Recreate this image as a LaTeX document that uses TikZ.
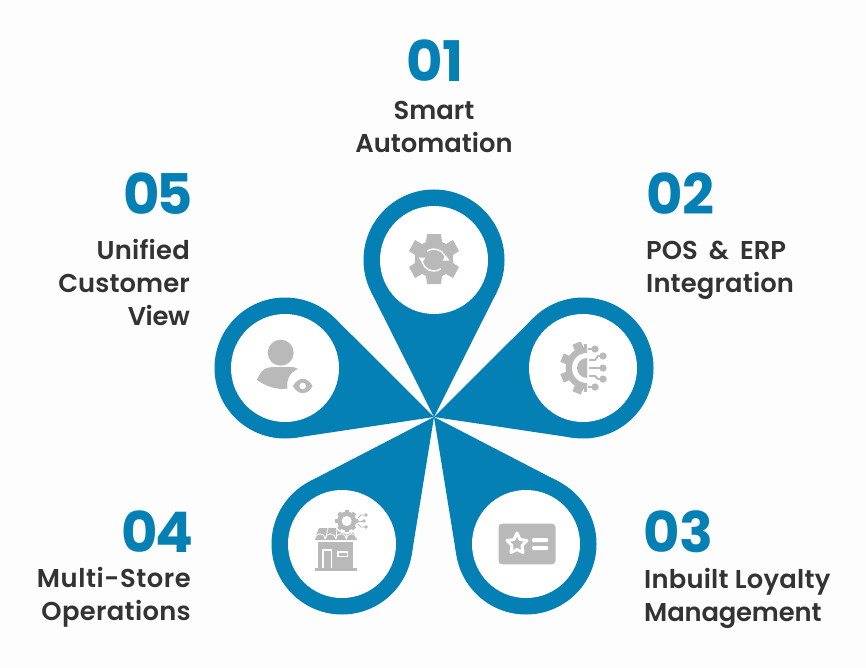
\documentclass[tikz,border=0pt]{standalone}
\usepackage{fontspec}
\setmainfont{Poppins}[BoldFont={Poppins SemiBold}]
\newfontfamily\numfont{Poppins}[UprightFont={* Bold}]
\usetikzlibrary{calc}
\definecolor{pinblue}{HTML}{0580B5}
\definecolor{icongray}{HTML}{B9B9B9}
\definecolor{bgpage}{HTML}{FDFDFD}
\definecolor{txtdark}{HTML}{333333}
\tikzset{
  outerdisc/.style={circle,fill=pinblue,minimum size=141pt,inner sep=0pt,outer sep=0pt},
  innerdisc/.style={circle,fill=white,minimum size=108pt,inner sep=0pt,outer sep=0pt},
  numtext/.style={text=pinblue,font=\numfont\fontsize{56}{56}\selectfont,inner sep=0pt},
  labtext/.style={text=txtdark,font=\bfseries\fontsize{25.8}{33}\selectfont,inner sep=0pt},
  icon/.style={fill=icongray,draw=none}
}
\newcommand{\pinat}[2]{%
  \node[outerdisc] (o#1) at (#2) {};
  \fill[pinblue] (apex) -- (tangent cs:node=o#1,point={(apex)},solution=1)
     -- (o#1.center) -- (tangent cs:node=o#1,point={(apex)},solution=2) -- cycle;
}
\newcommand{\sprd}[1]{\addfontfeature{LetterSpace=#1}}
\begin{document}
\begin{tikzpicture}[x=1pt,y=-1pt]
\path[fill=bgpage] (0,0) rectangle (866,668);
\useasboundingbox (0,0) rectangle (866,668);
\coordinate (apex) at (434,417);
\pinat{a}{434,260}
\pinat{b}{583,368}
\pinat{c}{526,544}
\pinat{d}{342,544}
\pinat{e}{285,368}
\node[innerdisc] (ia) at (oa) {};
\node[innerdisc] (ib) at (ob) {};
\node[innerdisc] (ic) at (oc) {};
\node[innerdisc] (id) at (od) {};
\node[innerdisc] (ie) at (oe) {};

% text
\node[numtext] (n1) at (435,61) {01};
\node[labtext,align=center] (l1) at (434,127) {Smart\\Automation};
\node[numtext,anchor=west] (n2) at (646,194) {02};
\node[labtext,align=left,anchor=west] (l2) at (646,270) {POS\hspace{5pt} \&\hspace{5pt} ERP\\\sprd{0.6}Integration};
\node[numtext,anchor=west] (n3) at (643,532) {03};
\node[labtext,align=left,anchor=west] (l3) at (644,598) {{\sprd{0.8}Inbuilt Loyalty}\\{\sprd{-0.6}Management}};
\node[numtext,anchor=east] (n4) at (194,532) {0\kern-2pt 4};
\node[labtext,align=right,anchor=east] (l4) at (191,597) {{\sprd{2.2}Multi-Store}\\{\sprd{1.3}Operations}};
\node[numtext,anchor=east] (n5) at (193,194) {0\kern-4pt 5};
\node[labtext,align=right,anchor=east] (l5) at (190,283) {{\sprd{1}Unified}\\{\sprd{0.4}Customer}\\{\sprd{-1.5}View}};

% icon 1 gear
\begin{scope}[shift={(434,259)}]
  \fill[icon] (-7,-25) -- (7,-25) -- (8,-17) -- (12,-15) -- (19,-19) -- (25,-8) -- (19,-4) -- (19,4) -- (25,8) -- (19,19) -- (12,15) -- (8,17) -- (7,25) -- (-7,25) -- (-8,17) -- (-12,15) -- (-19,19) -- (-25,8) -- (-19,4) -- (-19,-4) -- (-25,-8) -- (-19,-19) -- (-12,-15) -- (-8,-17) -- cycle;
  \draw[white,line width=1.4pt] (-12,-1) arc (185:55:12);
  \draw[white,line width=1.4pt] (12,1) arc (-5:-125:12);
  \fill[white] (-15.5,-1.5) -- (-8.5,-1.5) -- (-12,3.5) -- cycle;
  \fill[white] (15.5,1.5) -- (8.5,1.5) -- (12,-3.5) -- cycle;
\end{scope}

% icon 2 gear + circuit
\begin{scope}[shift={(587,368)}]
  \begin{scope}
    \clip (-30,-26) rectangle (0,26);
    \fill[icon] (0,0) circle (21.5);
    \foreach \aa in {0,45,...,315} {
      \fill[icon,rotate=\aa+22.5] (-4.5,-27) rectangle (4.5,-18);
    }
    \fill[icon] (-3,-24) rectangle (0,24);
    \fill[white] (0,0) circle (15);
    \fill[icon] (0,0) circle (10);
  \end{scope}
  \draw[icongray,line width=1.8pt] (1,-19) -- (8,-19);
  \draw[icongray,line width=1.8pt] (1,19) -- (8,19);
  \draw[icongray,line width=1.8pt] (2,-8) -- (8,-8) -- (11,-12) -- (16,-12);
  \draw[icongray,line width=1.8pt] (2,8) -- (8,8) -- (11,11) -- (16,11);
  \draw[icongray,line width=1.8pt] (2,0) -- (16,0);
  \fill[icon] (8,-19) circle (3.6) (16,-12) circle (3.6) (16,0) circle (3.6) (16,11) circle (3.6) (8,19) circle (3.6);
\end{scope}

% icon 3 card
\begin{scope}[shift={(527,544)}]
  \fill[icon,rounded corners=3.5pt] (-28.5,-20.3) rectangle (28.5,20.3);
  \fill[white,rounded corners=1pt] (5,-6) rectangle (21,-1.8);
  \fill[white,rounded corners=1pt] (5,2) rectangle (21,6);
  \draw[white,line width=3pt,line join=round,fill=icongray]
    (-10,-11) -- (-7,-4.5) -- (0,-3.5) -- (-5,1.5) -- (-4,8.5) -- (-10,5.5) -- (-16,8.5) -- (-15,1.5) -- (-20,-3.5) -- (-13,-4.5) -- cycle;
\end{scope}

% icon 4 store
\begin{scope}[shift={(342,544)}]
  \fill[icon] (-27,24) rectangle (15,27);
  \fill[icon] (-24,-2) rectangle (11,24);
  \fill[white] (-20,5) rectangle (-10,24);
  \fill[icon] (-18.5,6.5) rectangle (-11.5,24);
  \fill[white] (-5,7) rectangle (6,13);
  \fill[icon] (-3.5,8.5) rectangle (4.5,11.5);
  \fill[icon] (-23,-16) -- (8,-16) -- (15,-6) -- (15,-4) -- (-27,-4) -- (-27,-6) -- cycle;
  \foreach \xx in {-22,-11.5,-1,9.5} {
    \draw[white,line width=0.8pt,fill=icongray] (\xx-5.25,-5) arc (180:360:5.25);
  }
  \draw[white,line width=0.8pt] (-14,-16) -- (-16.5,-5) (-5,-16) -- (-6,-5) (4,-16) -- (4.5,-5);
  \fill[white] (4.7,-23) circle (13);
  \fill[icon] (4.7,-23) circle (9.5);
  \foreach \aa in {0,45,...,315} { \fill[icon,rotate around={\aa:(4.7,-23)}] (2.7,-34.3) rectangle (6.7,-30); }
  \fill[white] (4.7,-23) circle (5);
  \draw[icongray,line width=0.9pt] (16,-23) -- (22,-23);
  \draw[icongray,line width=0.9pt] (16,-26) -- (19,-29) -- (24,-29);
  \draw[icongray,line width=0.9pt] (16,-20) -- (19,-17) -- (24,-17);
  \fill[icon] (24,-29) circle (1.8) (22,-23) circle (1.8) (24,-17) circle (1.8);
\end{scope}

% icon 5 person
\begin{scope}[shift={(285,368)}]
  \fill[icon] (-4.3,-15.3) circle (13);
  \fill[icon] (-28,12) .. controls (-24,2) and (-20,-1) .. (-10,-1) -- (5,-1) .. controls (9,-1) and (12,0) .. (13,1) .. controls (5,4) and (1,12) .. (2.5,20.5) .. controls (-8,22) and (-18,19) .. (-28,12) -- cycle;
  \fill[icon] (8,18) .. controls (13,8.5) and (22.5,8.5) .. (27.5,18) .. controls (22.5,27.5) and (13,27.5) .. (8,18) -- cycle;
  \fill[white] (17.7,18) circle (3.3);
\end{scope}
\end{tikzpicture}
\end{document}
